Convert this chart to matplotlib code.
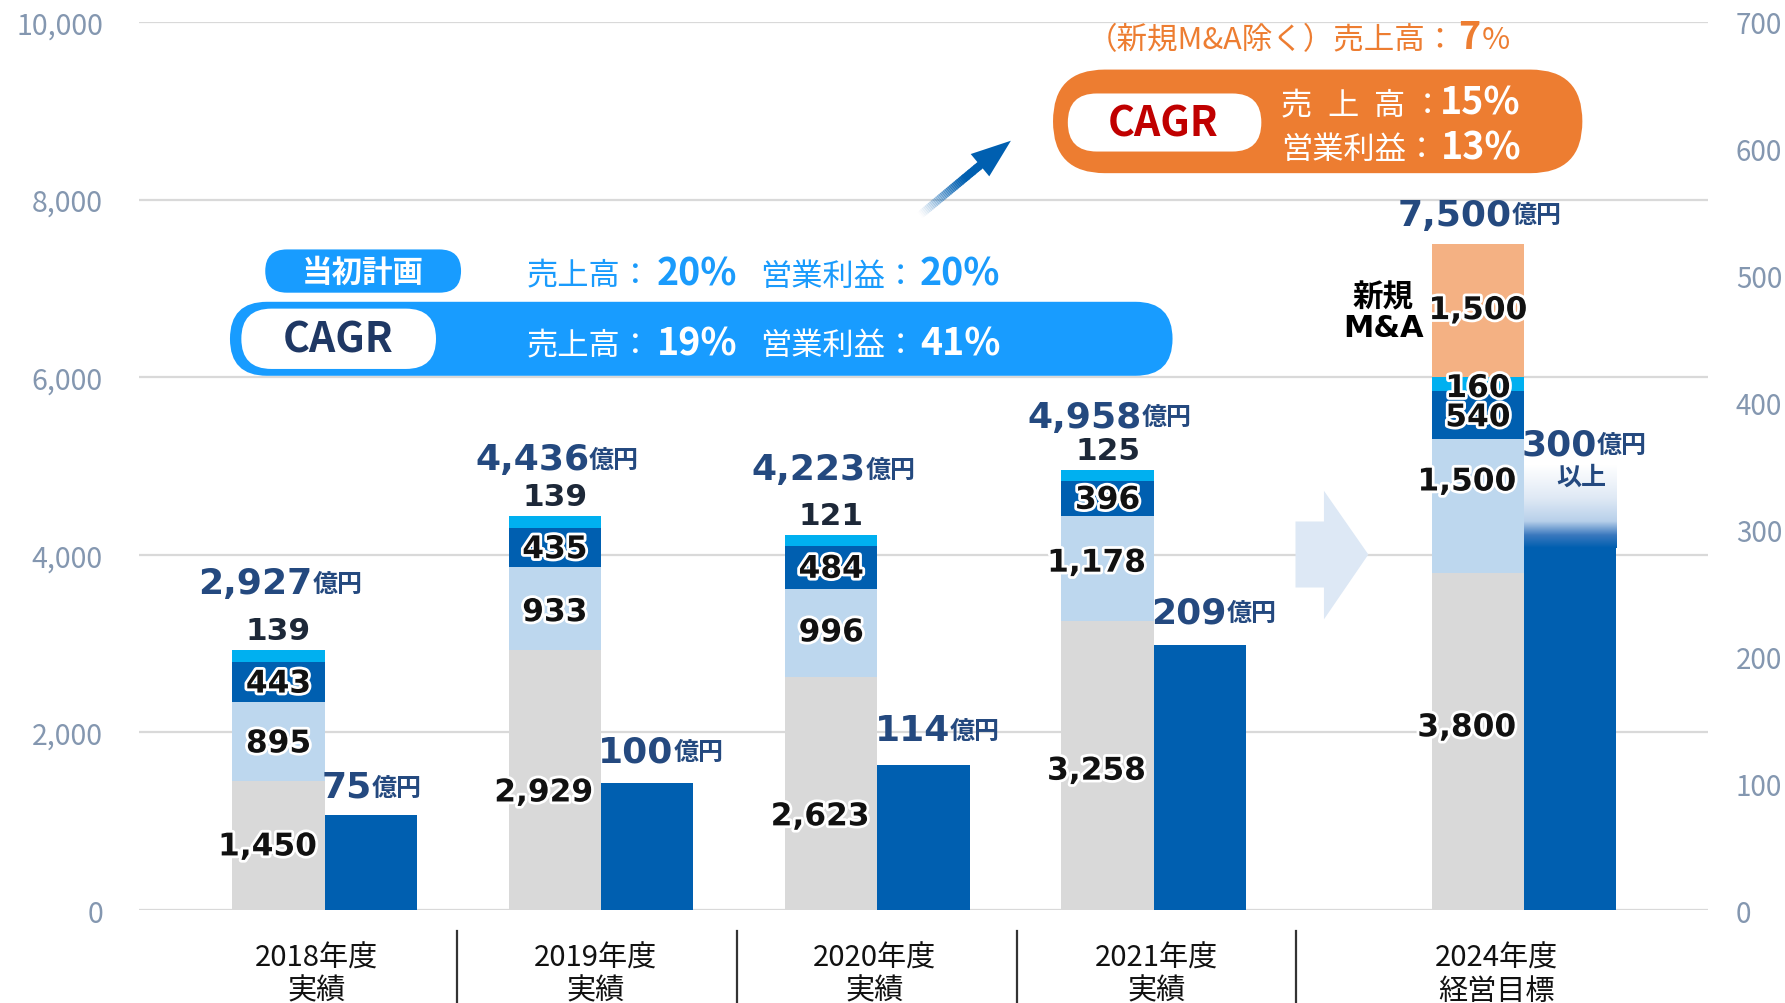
import matplotlib
matplotlib.use("Agg")
import matplotlib.pyplot as plt
import matplotlib.patheffects as pe
import matplotlib.transforms as mtransforms
from matplotlib.patches import FancyBboxPatch, Polygon
import numpy as np

plt.rcParams["font.family"] = ["Noto Sans CJK JP", "DejaVu Sans"]
JP = ["Noto Sans CJK JP", "DejaVu Sans"]
NUM = ["DejaVu Sans", "Noto Sans CJK JP"]

# ---- data (億円) ----
categories = ["2018年度\n実績", "2019年度\n実績", "2020年度\n実績", "2021年度\n実績", "2024年度\n経営目標"]
sales_gray = [1450, 2929, 2623, 3258, 3800]
sales_light = [895, 933, 996, 1178, 1500]
sales_dark = [443, 435, 484, 396, 540]
sales_cyan = [139, 139, 121, 125, 160]
sales_ma = [0, 0, 0, 0, 1500]
sales_total = [2927, 4436, 4223, 4958, 7500]
op_profit = [75, 100, 114, 209, 300]

# ---- colours ----
C_GRAY = "#d9d9d9"
C_LIGHT = "#bdd7ee"
C_DARK = "#005fb0"
C_CYAN = "#00b0f0"
C_MA = "#f4b183"
C_NAVY = "#24497f"
C_TICK = "#8497b0"
C_SKY = "#189cff"
C_ORANGE = "#ed7d31"

# ---- layout ----
group_x = np.array([0.0, 1.0, 2.0, 3.0, 4.34])
cat_label_x = [-0.03, 0.98, 1.99, 3.01, 4.24]
sep_x = [0.478, 1.492, 2.505, 3.515]
W = 0.334
PX = 0.82  # reference px -> points
total_dy = [50, 41, 49, 38, 17]
profit_dy = [16, 19, 22, 20, 66]
gray_frac = [0.49, 0.45, 0.40, 0.48, 0.54]
light_frac = [0.47, 0.45, 0.5, 0.55, 0.68]

fig = plt.figure(figsize=(17.85, 10.04), dpi=100)
ax = fig.add_axes([0.0779, 0.0926, 0.879, 0.8845])
ax2 = ax.twinx()

# stacked sales bars
stack_x = group_x - W / 2
segs = [sales_gray, sales_light, sales_dark, sales_cyan, sales_ma]
seg_colors = [C_GRAY, C_LIGHT, C_DARK, C_CYAN, C_MA]
bottoms = []
bottom = np.zeros(len(group_x))
for vals, col in zip(segs, seg_colors):
    ax.bar(stack_x, vals, W, bottom=bottom, color=col, linewidth=0, zorder=2)
    bottoms.append(bottom.copy())
    bottom = bottom + np.array(vals)
tops = bottom

# operating profit bars
prof_x = group_x + W / 2
ax2.bar(prof_x, op_profit, W, color=C_DARK, linewidth=0, zorder=2)

# fade on top of the 2024 target bar ("以上")
ys = np.linspace(285, 350, 200)
stops_y = [285, 295, 306, 324, 350]
stops_c = np.array([[0, 95, 176], [58, 120, 190], [184, 208, 234], [223, 233, 245], [255, 255, 255]]) / 255
grad = np.ones((len(ys), 1, 4))
for ch in range(3):
    grad[:, 0, ch] = np.interp(ys, stops_y, stops_c[:, ch])
ax2.imshow(grad, extent=[prof_x[4] - W / 2, prof_x[4] + W / 2, 285, 350],
           origin="lower", aspect="auto", zorder=3, interpolation="bilinear")

# axes styling
ax.set_xlim(-0.6716, 5.006)
ax.set_ylim(0, 10000)
ax2.set_ylim(0, 700)
ax.set_yticks(np.arange(0, 10001, 2000))
ax.set_yticklabels([f"{v:,}" for v in range(0, 10001, 2000)])
ax2.set_yticks(np.arange(0, 701, 100))
ax.tick_params(axis="y", length=0, pad=26, labelsize=20.5, labelcolor=C_TICK)
ax2.tick_params(axis="y", length=0, pad=20, labelsize=20, labelcolor=C_TICK)
ax.set_xticks([])
ax.grid(axis="y", color="#d9d9d9", linewidth=1.6)
ax.set_axisbelow(True)
for a in (ax, ax2):
    for s in a.spines.values():
        s.set_visible(False)

# category labels and separators
blend = mtransforms.blended_transform_factory(ax.transData, ax.transAxes)
for x, cat in zip(cat_label_x, categories):
    ax.text(x, -0.072, cat, transform=blend, ha="center", va="center",
            fontsize=21, linespacing=1.15, color="#111111")
for x in sep_x:
    ax.plot([x, x], [-0.024, -0.13], transform=blend, color="#333333",
            linewidth=1.6, clip_on=False)

# overlay in reference-pixel coordinates for all texts and decorations
ov = fig.add_axes([0, 0, 1, 1])
ov.set_xlim(0, 1568)
ov.set_ylim(882, 0)
ov.axis("off")
ov.patch.set_visible(False)

glow = [pe.withStroke(linewidth=4, foreground="white")]


def seg_label(x, y, v):
    ov.text(x, y, f"{v:,}", transform=ax.transData, ha="center", va="center",
            fontsize=22.5, fontweight="bold", family=NUM, color="#111111",
            path_effects=glow)


for i in range(len(group_x)):
    cx = stack_x[i]
    shift = -0.04
    seg_label(cx + shift, bottoms[0][i] + sales_gray[i] * gray_frac[i], sales_gray[i])
    sh = shift if sales_light[i] >= 1000 else 0
    seg_label(cx + sh, bottoms[1][i] + sales_light[i] * light_frac[i], sales_light[i])
    seg_label(cx, bottoms[2][i] + sales_dark[i] * 0.45, sales_dark[i])
    if sales_ma[i] > 0:
        seg_label(cx, bottoms[3][i] + sales_cyan[i] * 0.2, sales_cyan[i])
        seg_label(cx, bottoms[4][i] + sales_ma[i] / 2, sales_ma[i])
    else:
        ov.annotate(f"{sales_cyan[i]:,}", xy=(cx, tops[i]), xycoords=ax.transData,
                    xytext=(0, 17 * PX), textcoords="offset points",
                    ha="center", va="center", fontsize=22.5, fontweight="bold",
                    family=NUM, color="#1d2838")

    # total sales
    num = ov.annotate(f"{sales_total[i]:,}", xy=(cx + 0.124, tops[i]), xycoords=ax.transData,
                      xytext=(0, total_dy[i] * PX), textcoords="offset points",
                      ha="right", va="baseline", fontsize=26, fontweight="bold",
                      family=NUM, color=C_NAVY)
    ov.annotate("億円", xy=(1, 0), xycoords=num, xytext=(0, 3), textcoords="offset points",
                ha="left", va="bottom", fontsize=18, fontweight="bold", family=JP, color=C_NAVY)

    # operating profit
    pn = ov.annotate(f"{op_profit[i]:,}", xy=(group_x[i] - 0.01, op_profit[i]), xycoords=ax2.transData,
                     xytext=(0, profit_dy[i] * PX), textcoords="offset points",
                     ha="left", va="baseline", fontsize=26, fontweight="bold",
                     family=NUM, color=C_NAVY)
    ov.annotate("億円", xy=(1, 0), xycoords=pn, xytext=(0, 3), textcoords="offset points",
                ha="left", va="bottom", fontsize=18, fontweight="bold", family=JP, color=C_NAVY)

ov.annotate("以上", xy=(prof_x[4] + 0.04, op_profit[4]), xycoords=ax2.transData,
            xytext=(0, 46 * PX), textcoords="offset points", ha="center", va="center",
            fontsize=18, fontweight="bold", family=JP, color=C_NAVY)

ov.text(1215, 261, "新規", ha="center", va="center", fontsize=22, fontweight="bold",
        family=JP, color="#000000")
ov.text(1215, 289, "M&A", ha="center", va="center", fontsize=22, fontweight="bold",
        family=NUM, color="#000000")


def pill(x, y, w, h, color, z=5):
    ov.add_patch(FancyBboxPatch((x, y), w, h, boxstyle=f"round,pad=0,rounding_size={h / 2}",
                                facecolor=color, edgecolor="none", zorder=z))


# initial plan / CAGR (blue)
pill(233, 220, 172, 38, C_SKY)
ov.text(319, 240, "当初計画", ha="center", va="center", fontsize=22, fontweight="bold",
        color="white", zorder=6)
pill(202, 266, 828, 65, C_SKY)
pill(212, 272, 171, 53, "white", z=6)
ov.text(297, 299, "CAGR", ha="center", va="center", fontsize=29.5, fontweight="bold",
        color="#1f3864", zorder=7)

for yb, col, p1, p2 in [(251, "#1a9bfc", "20%", "20%"), (312, "white", "19%", "41%")]:
    ov.text(463, yb, "売上高：", ha="left", va="baseline", fontsize=22.5, color=col, zorder=7)
    ov.text(577, yb, p1, ha="left", va="baseline", fontsize=27, fontweight="bold",
            color=col, zorder=7)
    ov.text(668, yb, "営業利益：", ha="left", va="baseline", fontsize=22.5, color=col, zorder=7)
    ov.text(808, yb, p2, ha="left", va="baseline", fontsize=27, fontweight="bold",
            color=col, zorder=7)

# target CAGR (orange)
ov.text(955, 43, "（新規M&A除く）売上高：", ha="left", va="baseline", fontsize=22,
        color=C_ORANGE)
ov.text(1281, 43, "7", ha="left", va="baseline", fontsize=27, fontweight="bold", color=C_ORANGE)
ov.text(1302, 43, "%", ha="left", va="baseline", fontsize=22, color=C_ORANGE)

pill(925, 62, 465, 91, C_ORANGE)
pill(938, 83, 170, 51, "white", z=6)
ov.text(1022, 109, "CAGR", ha="center", va="center", fontsize=29.5, fontweight="bold",
        color="#c00000", zorder=7)
for ch, x in zip("売上高：", [1125, 1166, 1207, 1240]):
    ov.text(x, 101, ch, ha="left", va="baseline", fontsize=22.5, color="white", zorder=7)
ov.text(1265, 101, "15%", ha="left", va="baseline", fontsize=27, fontweight="bold",
        color="white", zorder=7)
ov.text(1125, 140, "営業利益：", ha="left", va="baseline", fontsize=22.5, color="white", zorder=7)
ov.text(1266, 140, "13%", ha="left", va="baseline", fontsize=27, fontweight="bold",
        color="white", zorder=7)

# diagonal arrow with fading tail
tail = np.array([808.0, 190.0])
base = np.array([861.0, 146.0])
tip = np.array([888.0, 124.5])
d = base - tail
n = np.array([-d[1], d[0]]) / np.hypot(*d)
hw = 3.6
N = 40
for k in range(N):
    t0, t1 = k / N, (k + 1) / N
    p0, p1 = tail + d * t0, tail + d * (t1 + 0.01)
    a = min(1.0, (t0 + 0.02) / 0.75) ** 1.3
    ov.add_patch(Polygon([p0 + n * hw, p1 + n * hw, p1 - n * hw, p0 - n * hw],
                         closed=True, facecolor=C_DARK, edgecolor="none", alpha=a, zorder=5))
ov.add_patch(Polygon([tip, [852.7, 136.2], [869.0, 155.8]], closed=True,
                     facecolor=C_DARK, edgecolor="none", zorder=5))

# light block arrow toward the target year
ov.add_patch(Polygon([[1138, 459], [1163, 459], [1163, 432], [1202, 488],
                      [1163, 545], [1163, 517], [1138, 517]], closed=True,
                     facecolor="#dde8f5", edgecolor="none", zorder=1))

fig.savefig("out.png", dpi=100)
plt.close(fig)
